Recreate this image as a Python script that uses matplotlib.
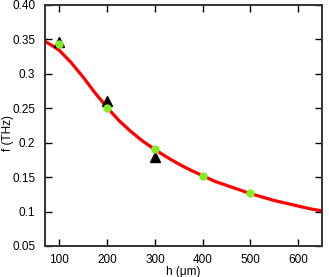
import matplotlib
matplotlib.use("Agg")
import matplotlib.pyplot as plt

# fitted curve
curve_h = [70, 85, 100, 125, 150, 175, 200, 225, 250, 275, 300, 325, 350, 375,
           400, 425, 450, 475, 500, 525, 550, 575, 600, 625, 650]
curve_f = [0.347, 0.341, 0.334, 0.316, 0.295, 0.272, 0.251, 0.232, 0.216, 0.202,
           0.190, 0.179, 0.169, 0.160, 0.152, 0.144, 0.138, 0.132, 0.126, 0.121,
           0.116, 0.112, 0.108, 0.104, 0.101]

# simulated points (green)
sim_h = [100, 200, 300, 400, 500]
sim_f = [0.343, 0.250, 0.191, 0.151, 0.127]

# measured points (black triangles)
exp_h = [100, 200, 300]
exp_f = [0.346, 0.261, 0.179]

xticks = [100, 200, 300, 400, 500, 600]
yticks = [0.05, 0.1, 0.15, 0.2, 0.25, 0.3, 0.35, 0.40]
ylabels = ["0.05", "0.1", "0.15", "0.2", "0.25", "0.3", "0.35", "0.40"]

plt.rcParams['font.family'] = ['Liberation Sans', 'DejaVu Sans']

fig = plt.figure(figsize=(3.29, 2.77), dpi=100)
ax = fig.add_axes([0.137, 0.112, 0.842, 0.870])

ax.plot(curve_h, curve_f, color='#ff0000', lw=2.3, zorder=2, solid_capstyle='butt')
ax.plot(exp_h, exp_f, '^', color='black', ms=7, zorder=3)
ax.plot(sim_h, sim_f, 'o', color='#80ee22', ms=6, mec='none', zorder=4)

ax.set_xlim(70, 650)
ax.set_ylim(0.05, 0.40)
ax.set_xticks(xticks)
ax.set_yticks(yticks)
ax.set_yticklabels(ylabels)
ax.tick_params(direction='in', length=5, width=1, labelsize=8.5,
               top=True, right=True)
ax.tick_params(axis='y', pad=7)
ax.tick_params(axis='x', pad=6)
for s in ax.spines.values():
    s.set_linewidth(1.4)
    s.set_color('#333333')

ax.set_xlabel('h (μm)', fontsize=8.5, labelpad=0)
ax.set_ylabel('f (THz)', fontsize=8.5)
ax.yaxis.set_label_coords(-0.112, 0.47)

fig.savefig('out.png', dpi=100)
